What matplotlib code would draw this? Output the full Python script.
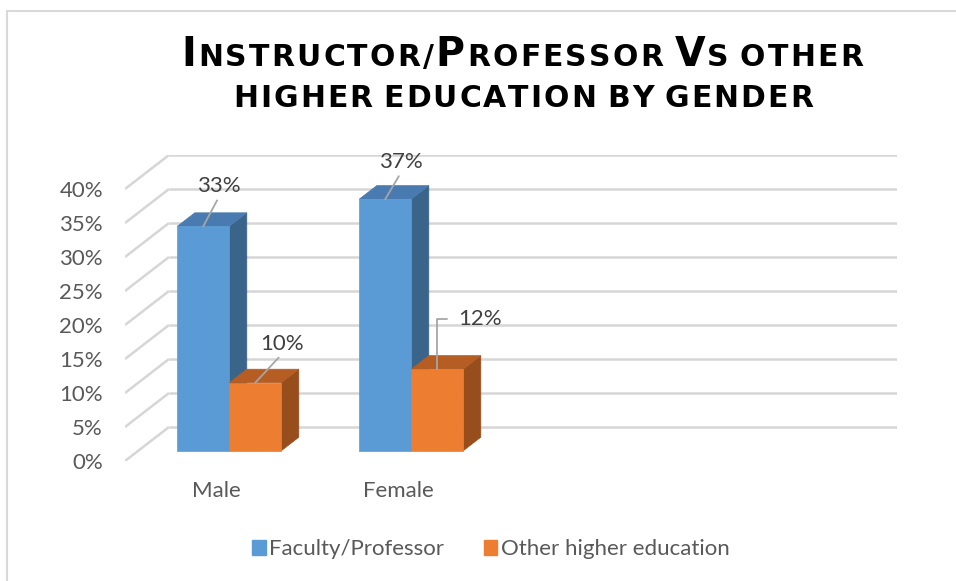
import numpy as np
import matplotlib.pyplot as plt
from matplotlib.patches import Polygon, Patch, Rectangle

# data
categories = ['Male', 'Female']
series_names = ['Faculty/Professor', 'Other higher education']
faculty = [33, 37]
other = [10, 12]
yticks = [0, 5, 10, 15, 20, 25, 30, 35, 40]
title_lines = ['Instructor/Professor Vs other', 'higher education by gender']

# colours (front, top, side)
blue = ('#5b9bd5', '#4a7bb0', '#3a6489')
orange = ('#ed7d31', '#b55d22', '#974e1c')
grid_c = '#d6d6d6'
text_c = '#595959'
fs = 16

W, H = 956, 581
fig = plt.figure(figsize=(W / 100, H / 100), dpi=100)
plt.rcParams['font.family'] = ['Lato', 'DejaVu Sans']

# 3d depth of the floor, in data units (cat, %)
DX = 44 / 182
DY = 5.0
BW = 1 / 3.5          # gap width 150%
D0, D1 = 0.3, 0.7     # bar depth range

ax = fig.add_axes([125 / W, (H - 461) / H, (4 + DX) * 182 / W, 45 * 6.8 / H])
ax.set_xlim(-0.5, 3.5 + DX)
ax.set_ylim(0, 45)
ax.axis('off')


def proj(x, y, d):
    return (x + DX * d, y + DY * d)


# walls / gridlines
for t in yticks:
    ax.plot([-0.5, -0.5 + DX], [t, t + DY], color=grid_c, lw=1.8, solid_capstyle='butt', zorder=1)
    ax.plot([-0.5 + DX, 3.5 + DX], [t + DY, t + DY], color=grid_c, lw=1.8, solid_capstyle='butt', zorder=1)
    ax.annotate(f'{t}%', xy=(-0.5, t), xytext=(-22, -2), textcoords='offset pixels',
                ha='right', va='center', fontsize=fs, color=text_c, annotation_clip=False)


def bar3d(x0, x1, v, cols):
    front = [proj(x0, 0, D0), proj(x1, 0, D0), proj(x1, v, D0), proj(x0, v, D0)]
    top = [proj(x0, v, D0), proj(x1, v, D0), proj(x1, v, D1), proj(x0, v, D1)]
    side = [proj(x1, 0, D0), proj(x1, 0, D1), proj(x1, v, D1), proj(x1, v, D0)]
    for poly, c in zip([side, top, front], [cols[2], cols[1], cols[0]]):
        ax.add_patch(Polygon(poly, closed=True, facecolor=c, edgecolor=c, lw=0.5, zorder=3))


for i in range(len(categories)):
    bar3d(i - BW, i, faculty[i], blue)
    bar3d(i, i + BW, other[i], orange)
    ax.annotate(categories[i], xy=(i, 0), xytext=(0, -30), textcoords='offset pixels',
                ha='center', va='center', fontsize=fs, color=text_c, annotation_clip=False)

# data labels with leader lines
label_offsets = {('f', 0): (16, 40), ('o', 0): (27, 39), ('f', 1): (16, 37), ('o', 1): (43, 50)}
for i in range(len(categories)):
    for key, vals, xc in [('f', faculty, i - BW / 2), ('o', other, i + BW / 2)]:
        v = vals[i]
        dx, dy = label_offsets[(key, i)]
        xy = proj(xc, v, D0)
        if key == 'o' and i == 1:
            ap = dict(arrowstyle='-', color='#a6a6a6', lw=1.3, shrinkA=6, shrinkB=0,
                      relpos=(0, 0.5), connectionstyle='angle,angleA=0,angleB=90,rad=0')
        else:
            ap = dict(arrowstyle='-', color='#a6a6a6', lw=1.3, shrinkA=1, shrinkB=0,
                      relpos=(0.5, 0))
        ax.annotate(f'{v}%', xy=xy, xytext=(dx, dy), textcoords='offset pixels',
                    ha='center', va='center', fontsize=fs, color='#404040',
                    arrowprops=ap, annotation_clip=False, zorder=5)

# legend
handles = [Patch(color=blue[0]), Patch(color=orange[0])]
fig.legend(handles, series_names, loc='center', bbox_to_anchor=(491 / W, 1 - 549 / H),
           ncol=2, frameon=False, fontsize=fs, handlelength=0.6, handleheight=0.65,
           handletextpad=0.15, columnspacing=1.8, labelcolor=text_c)

# chart border (top and left edges visible)
fig.add_artist(Rectangle((7 / W, -0.1), 1.2, 1.1 - 11 / H, transform=fig.transFigure,
                         fill=False, edgecolor='#d9d9d9', lw=1.5))

# title in small caps: per-character placement
renderer = fig.canvas.get_renderer()
big, small = 28.5, 21.5
targets = [(181, 863, 66), (233, 813, 107)]
for line, (xl, xr, base) in zip(title_lines, targets):
    items = []
    nspace = 0
    for ch in line:
        if ch == ' ':
            nspace += 1
            items.append(None)
            continue
        size = big if ch.isupper() else small
        t = fig.text(0, 1 - base / H, ch.upper(), fontsize=size, fontweight='bold',
                     family='DejaVu Sans', color='black', va='baseline', ha='left')
        items.append([t, t.get_window_extent(renderer).width])
    letters = [it for it in items if it is not None]
    space_w = 0.3 * small * 100 / 72
    natural = sum(w for _, w in letters) + nspace * space_w
    gap = ((xr - xl) - natural) / (len(items) - 1 - nspace)
    x = xl
    for it in items:
        if it is None:
            x += space_w
            continue
        t, w = it
        t.set_x(x / W)
        x += w + gap

fig.savefig('out.png', dpi=100)
